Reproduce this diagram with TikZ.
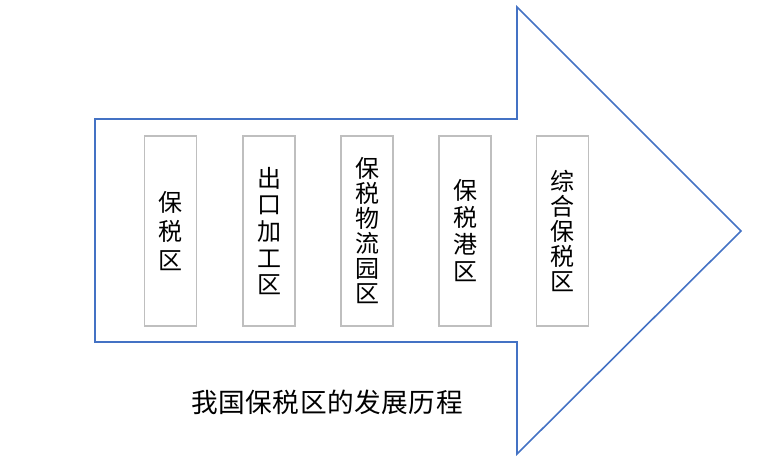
\documentclass[tikz,border=0pt]{standalone}
\usepackage{fontspec}
\newfontfamily\cjk{Noto Sans CJK SC}
\newfontfamily\cjkcap[LetterSpace=2]{Noto Sans CJK SC}
\definecolor{arrowblue}{HTML}{4472C4}
\definecolor{boxgray}{HTML}{BFBFBF}
\begin{document}
\begin{tikzpicture}[x=0.75pt,y=-0.75pt,
  stagebox/.style={draw=boxgray, line width=1pt, fill=white, inner sep=0pt,
    minimum width=39pt, minimum height=142.5pt, align=center, text=black},
  pitch/.style={font=\cjk\fontsize{18}{#1}\selectfont}]
\useasboundingbox (0,0) rectangle (770,463);
% big arrow
\coordinate (a1) at (95,119);
\coordinate (a2) at (517,119);
\coordinate (a3) at (517,7);
\coordinate (tip) at (741,231);
\coordinate (a5) at (517,454);
\coordinate (a6) at (517,342);
\coordinate (a7) at (95,342);
\draw[arrowblue, line width=1.2pt, line join=miter] (a1) -- (a2) -- (a3) -- (tip) -- (a5) -- (a6) -- (a7) -- cycle;
% stage boxes
\node[stagebox, pitch=21.75pt] (b1) at (170.5,231) {保\\税\\区};
\node[stagebox, pitch=20pt] (b2) at (269,231) {出\\口\\加\\工\\区};
\node[stagebox, pitch=18.75pt] (b3) at (367,231) {保\\税\\物\\流\\园\\区};
\node[stagebox, pitch=20.25pt] (b4) at (465,231) {保\\税\\港\\区};
\node[stagebox, pitch=18.9pt] (b5) at (562.5,231) {综\\合\\保\\税\\区};
% caption
\node[font=\cjkcap\fontsize{20}{24}\selectfont, inner sep=0pt] (cap) at (327,402) {我国保税区的发展历程};
\end{tikzpicture}
\end{document}
